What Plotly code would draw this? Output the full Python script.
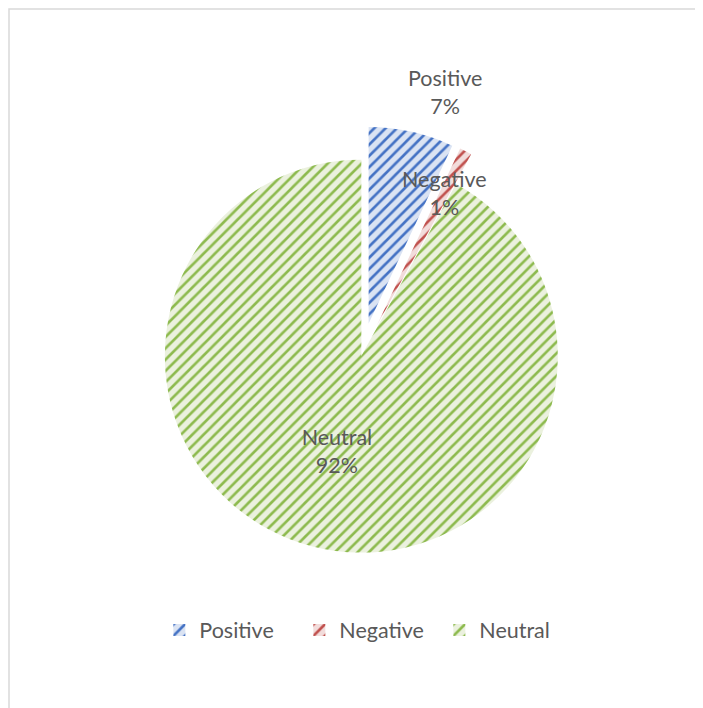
import plotly.graph_objects as go

categories = ["Positive", "Negative", "Neutral"]
values = [7, 1, 92]
fg_colors = ["#4472C4", "#C0504D", "#8DBA4E"]
bg_colors = ["#DAE3F3", "#F2DCDB", "#EBF1DE"]
pulls = [0.17, 0.17, 0.0]

total = sum(values)
pct = [f"{round(v / total * 100)}%" for v in values]
texts = ["", "", f"{categories[2]}<br>{pct[2]}"]

FONT = "Lato, 'Open Sans', sans-serif"
TXT = "#595959"
FS = 21.5

fig = go.Figure(go.Pie(
    labels=categories,
    values=values,
    sort=False,
    direction="clockwise",
    rotation=0,
    pull=pulls,
    text=texts,
    textinfo="text",
    textposition="inside",
    insidetextorientation="horizontal",
    textfont=dict(family=FONT, size=FS, color=TXT),
    marker=dict(
        colors=bg_colors,
        line=dict(width=0),
        pattern=dict(shape="/", fgcolor=fg_colors, bgcolor=bg_colors,
                     size=8, solidity=0.33, fillmode="replace"),
    ),
    domain=dict(x=[0.1756, 0.8296], y=[0.1833, 0.8333]),
    hoverinfo="label+percent",
))

# Data labels for small slices (text from data)
fig.add_annotation(x=0.622, y=0.923, xref="paper", yref="paper",
                   text=f"{categories[0]}<br>{pct[0]}", showarrow=False,
                   font=dict(family=FONT, size=FS, color=TXT))
fig.add_annotation(x=0.621, y=0.779, xref="paper", yref="paper",
                   text=f"{categories[1]}<br>{pct[1]}", showarrow=False,
                   font=dict(family=FONT, size=FS, color=TXT))

# chart-area border
fig.add_shape(type="rect", xref="paper", yref="paper",
              x0=1 / 703, x1=1.05, y0=-0.05, y1=1 - 1 / 708,
              line=dict(color="#D9D9D9", width=1.5))

fig.update_layout(
    width=703, height=708,
    margin=dict(l=0, r=0, t=0, b=0),
    paper_bgcolor="white", plot_bgcolor="white",
    showlegend=True,
    legend=dict(orientation="h", x=0.514, xanchor="center", y=0.1215, yanchor="middle",
                font=dict(family=FONT, size=FS, color=TXT), itemwidth=30,
                entrywidth=95, entrywidthmode="pixels",
                traceorder="normal"),
    font=dict(family=FONT, color=TXT),
)

fig.write_html("out.html")
